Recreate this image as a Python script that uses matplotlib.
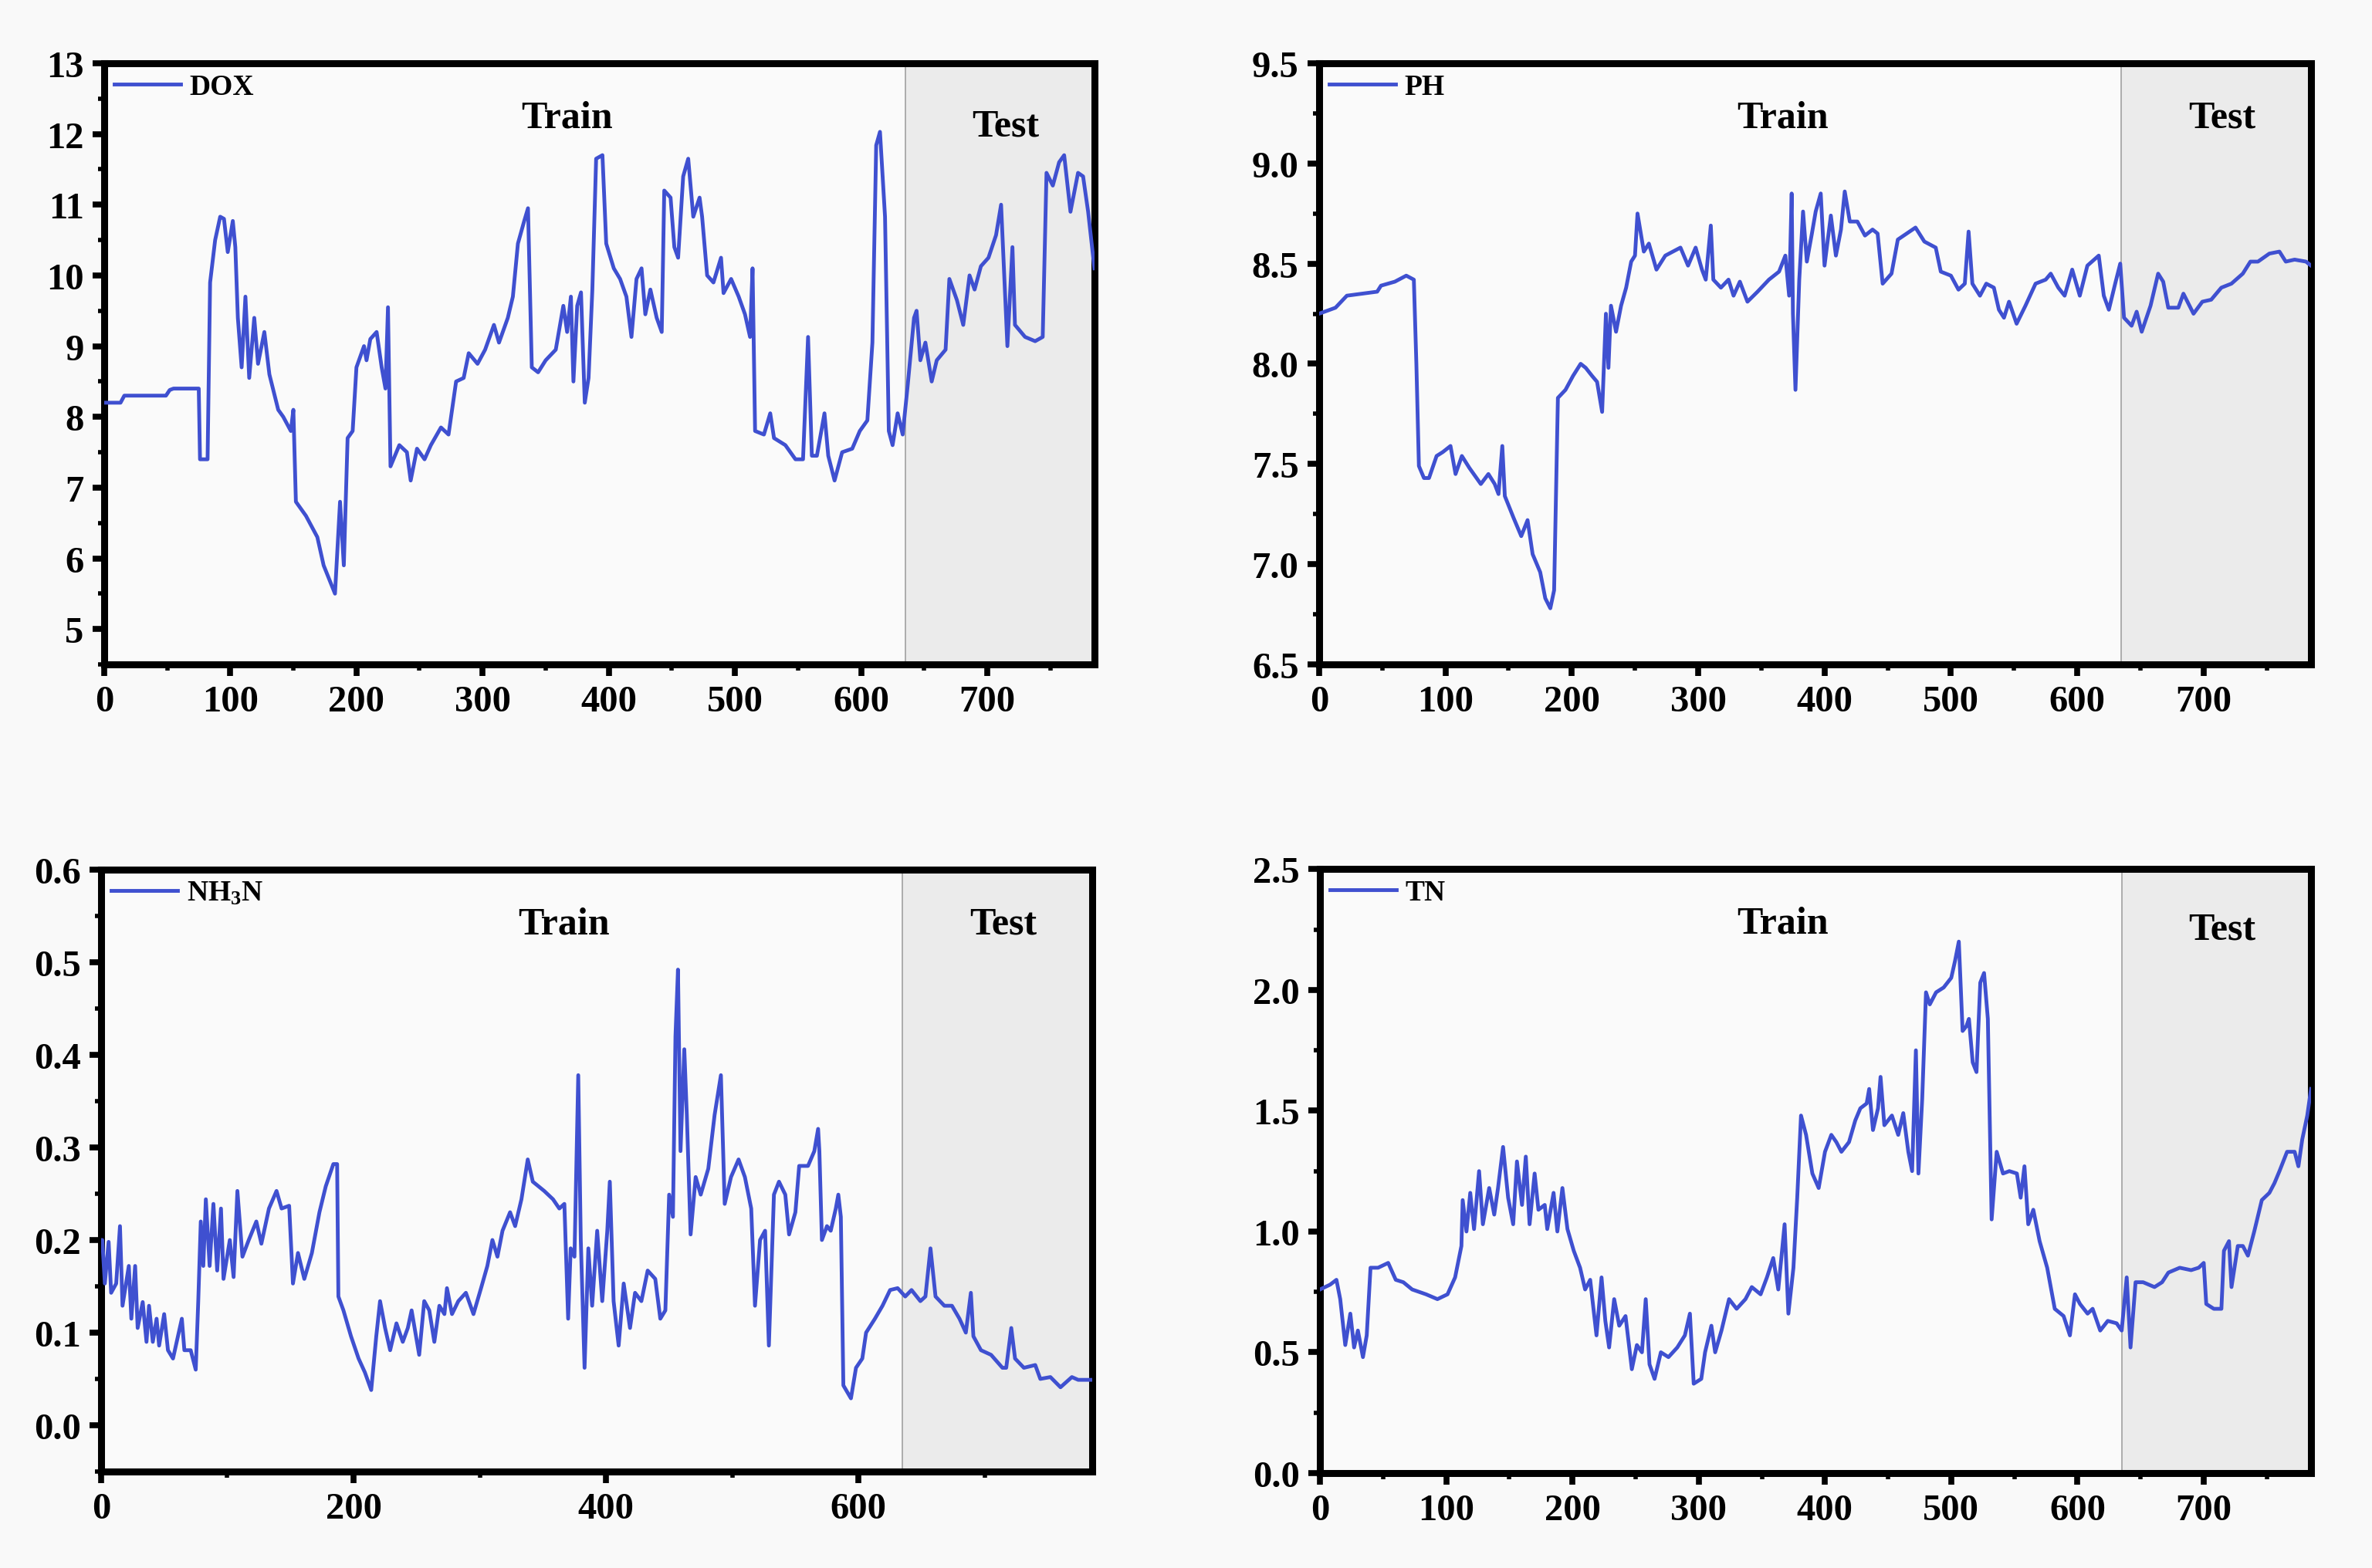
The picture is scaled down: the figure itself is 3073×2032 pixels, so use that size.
import matplotlib
matplotlib.use("Agg")
import matplotlib.pyplot as plt
from matplotlib.ticker import MultipleLocator, FormatStrFormatter

plt.rcParams["font.family"] = ["Liberation Serif", "DejaVu Serif"]
plt.rcParams["font.weight"] = "bold"
plt.rcParams["mathtext.fontset"] = "custom"
plt.rcParams["mathtext.rm"] = "Liberation Serif:bold"
plt.rcParams["mathtext.bf"] = "Liberation Serif:bold"
plt.rcParams["mathtext.default"] = "bf"

# (sample index, value)
DOX = [(0, 8.2), (13, 8.2), (16, 8.3), (49, 8.3), (52, 8.38), (55, 8.4), (75, 8.4), (76, 7.4),
       (82, 7.4), (84, 9.9), (88, 10.5), (92, 10.83), (95, 10.8), (98, 10.33), (102, 10.77),
       (104, 10.4), (106, 9.4), (109, 8.7), (112, 9.7), (115, 8.55), (119, 9.4), (122, 8.75),
       (127, 9.2), (131, 8.6), (138, 8.1), (142, 8.0), (148, 7.8), (150, 8.1), (152, 6.8),
       (160, 6.6), (169, 6.3), (174, 5.9), (183, 5.5), (187, 6.8), (190, 5.9), (193, 7.7),
       (197, 7.8), (200, 8.7), (206, 9.0), (208, 8.8), (211, 9.1), (216, 9.2), (220, 8.7),
       (223, 8.4), (225, 9.55), (227, 7.3), (234, 7.6), (240, 7.5), (243, 7.1), (248, 7.55),
       (254, 7.4), (259, 7.6), (267, 7.85), (273, 7.75), (279, 8.5), (285, 8.55), (289, 8.9),
       (296, 8.75), (302, 8.95), (309, 9.3), (313, 9.05), (320, 9.4), (324, 9.7), (328, 10.45),
       (333, 10.77), (336, 10.95), (339, 8.7), (344, 8.63), (350, 8.8), (358, 8.95), (364, 9.57),
       (367, 9.2), (370, 9.7), (372, 8.5), (375, 9.57), (378, 9.76), (381, 8.2), (384, 8.55),
       (387, 9.8), (390, 11.65), (395, 11.7), (398, 10.45), (404, 10.1), (409, 9.95), (414, 9.7),
       (418, 9.13), (422, 9.95), (426, 10.1), (429, 9.45), (433, 9.8), (438, 9.4), (442, 9.2),
       (444, 11.2), (449, 11.1), (452, 10.4), (455, 10.25), (459, 11.4), (463, 11.65),
       (467, 10.83), (472, 11.1), (474, 10.83), (478, 10.0), (483, 9.9), (489, 10.25),
       (491, 9.75), (497, 9.95), (503, 9.7), (508, 9.45), (512, 9.13), (514, 10.1), (516, 7.8),
       (523, 7.75), (528, 8.05), (531, 7.7), (540, 7.6), (548, 7.4), (554, 7.4), (558, 9.13),
       (561, 7.45), (565, 7.45), (571, 8.05), (574, 7.45), (579, 7.1), (585, 7.5), (593, 7.55),
       (599, 7.8), (605, 7.95), (609, 9.05), (612, 11.84), (615, 12.03), (619, 10.83),
       (622, 7.8), (625, 7.6), (629, 8.05), (633, 7.75), (637, 8.45), (642, 9.4), (644, 9.5),
       (647, 8.8), (651, 9.05), (656, 8.5), (660, 8.8), (667, 8.95), (670, 9.95), (676, 9.65),
       (681, 9.3), (686, 10.0), (690, 9.8), (695, 10.13), (701, 10.25), (707, 10.57),
       (711, 11.0), (716, 9.0), (720, 10.4), (722, 9.3), (730, 9.13), (738, 9.07), (744, 9.13),
       (747, 11.45), (752, 11.27), (757, 11.6), (761, 11.7), (766, 10.9), (772, 11.45),
       (776, 11.4), (780, 10.9), (785, 10.1)]

PH = [(0, 8.25), (13, 8.28), (22, 8.34), (34, 8.35), (46, 8.36), (49, 8.39), (60, 8.41),
      (69, 8.44), (75, 8.42), (77, 8.0), (79, 7.49), (83, 7.43), (87, 7.43), (93, 7.54),
      (98, 7.56), (104, 7.59), (108, 7.45), (113, 7.54), (119, 7.48), (128, 7.4), (134, 7.45),
      (139, 7.4), (142, 7.35), (145, 7.59), (147, 7.34), (154, 7.23), (160, 7.14), (165, 7.22),
      (169, 7.05), (175, 6.96), (179, 6.83), (183, 6.78), (186, 6.87), (189, 7.83), (195, 7.87),
      (201, 7.94), (207, 8.0), (211, 7.98), (216, 7.94), (220, 7.91), (224, 7.76), (227, 8.25),
      (229, 7.98), (231, 8.29), (235, 8.16), (239, 8.29), (243, 8.38), (247, 8.51), (250, 8.54),
      (252, 8.75), (257, 8.56), (261, 8.6), (267, 8.47), (274, 8.54), (280, 8.56), (286, 8.58),
      (292, 8.49), (298, 8.58), (303, 8.47), (306, 8.42), (310, 8.69), (312, 8.42), (318, 8.38),
      (324, 8.42), (328, 8.34), (333, 8.41), (339, 8.31), (347, 8.36), (356, 8.42), (364, 8.46),
      (369, 8.54), (372, 8.34), (374, 8.85), (375, 8.25), (377, 7.87), (380, 8.42), (383, 8.76),
      (386, 8.51), (390, 8.65), (393, 8.76), (397, 8.85), (400, 8.49), (405, 8.74), (409, 8.54),
      (413, 8.67), (416, 8.86), (420, 8.71), (426, 8.71), (432, 8.64), (438, 8.67), (442, 8.65),
      (446, 8.4), (453, 8.45), (458, 8.62), (465, 8.65), (472, 8.68), (479, 8.61), (488, 8.58),
      (492, 8.46), (500, 8.44), (506, 8.37), (511, 8.4), (514, 8.66), (517, 8.4), (523, 8.34),
      (528, 8.4), (534, 8.38), (538, 8.27), (542, 8.23), (546, 8.31), (552, 8.2), (559, 8.29),
      (567, 8.4), (575, 8.42), (579, 8.45), (585, 8.38), (590, 8.34), (596, 8.47), (602, 8.34),
      (608, 8.49), (617, 8.54), (621, 8.34), (625, 8.27), (630, 8.4), (634, 8.5), (637, 8.23),
      (643, 8.19), (647, 8.26), (651, 8.16), (658, 8.29), (664, 8.45), (668, 8.41), (672, 8.28),
      (680, 8.28), (684, 8.35), (692, 8.25), (699, 8.31), (706, 8.32), (714, 8.38), (722, 8.4),
      (731, 8.45), (737, 8.51), (743, 8.51), (752, 8.55), (760, 8.56), (765, 8.51), (772, 8.52),
      (781, 8.51), (785, 8.49)]

NH3N = [(0, 0.2), (1, 0.2), (3, 0.153), (6, 0.198), (8, 0.143), (12, 0.153), (15, 0.215),
        (17, 0.129), (22, 0.172), (24, 0.115), (27, 0.172), (29, 0.105), (33, 0.133), (36, 0.09),
        (38, 0.129), (41, 0.09), (44, 0.115), (46, 0.086), (50, 0.12), (53, 0.081), (57, 0.072),
        (64, 0.115), (66, 0.081), (71, 0.081), (75, 0.06), (77, 0.134), (79, 0.22), (81, 0.172),
        (83, 0.244), (86, 0.172), (89, 0.239), (92, 0.167), (95, 0.234), (97, 0.158), (102, 0.2),
        (105, 0.16), (108, 0.253), (112, 0.182), (117, 0.2), (123, 0.22), (127, 0.196),
        (133, 0.234), (139, 0.253), (143, 0.234), (149, 0.237), (152, 0.153), (156, 0.186),
        (161, 0.158), (167, 0.186), (173, 0.23), (178, 0.258), (184, 0.282), (187, 0.282),
        (188, 0.139), (192, 0.124), (198, 0.096), (204, 0.072), (209, 0.057), (214, 0.038),
        (218, 0.096), (221, 0.134), (225, 0.105), (229, 0.081), (234, 0.11), (239, 0.09),
        (243, 0.105), (246, 0.124), (252, 0.076), (256, 0.134), (260, 0.124), (264, 0.09),
        (268, 0.129), (272, 0.12), (274, 0.148), (278, 0.12), (283, 0.134), (289, 0.143),
        (295, 0.12), (301, 0.148), (306, 0.172), (310, 0.2), (314, 0.182), (318, 0.21),
        (324, 0.23), (328, 0.215), (333, 0.244), (338, 0.287), (342, 0.263), (351, 0.253),
        (358, 0.244), (363, 0.234), (367, 0.239), (370, 0.115), (372, 0.191), (375, 0.182),
        (378, 0.378), (380, 0.2), (383, 0.062), (386, 0.191), (389, 0.129), (393, 0.21),
        (397, 0.134), (401, 0.21), (403, 0.263), (406, 0.134), (410, 0.086), (414, 0.153),
        (419, 0.105), (423, 0.143), (428, 0.134), (433, 0.167), (439, 0.158), (443, 0.115),
        (447, 0.124), (450, 0.249), (453, 0.225), (455, 0.42), (457, 0.492), (459, 0.296),
        (462, 0.406), (464, 0.335), (467, 0.206), (471, 0.268), (475, 0.249), (481, 0.277),
        (486, 0.335), (491, 0.378), (494, 0.239), (499, 0.268), (505, 0.287), (510, 0.268),
        (515, 0.234), (518, 0.129), (522, 0.2), (526, 0.21), (529, 0.086), (533, 0.249),
        (537, 0.263), (542, 0.249), (545, 0.206), (550, 0.23), (553, 0.28), (560, 0.28),
        (565, 0.296), (568, 0.32), (569, 0.296), (571, 0.2), (575, 0.215), (578, 0.21),
        (582, 0.234), (584, 0.249), (586, 0.225), (588, 0.043), (594, 0.029), (598, 0.062),
        (603, 0.072), (606, 0.1), (613, 0.115), (619, 0.129), (625, 0.146), (631, 0.148),
        (637, 0.139), (642, 0.146), (649, 0.134), (653, 0.139), (657, 0.191), (661, 0.139),
        (668, 0.129), (674, 0.129), (680, 0.115), (685, 0.1), (689, 0.143), (691, 0.096),
        (697, 0.081), (705, 0.076), (714, 0.062), (717, 0.062), (721, 0.105), (724, 0.072),
        (731, 0.062), (740, 0.065), (744, 0.05), (752, 0.052), (760, 0.041), (769, 0.052),
        (774, 0.049), (785, 0.049)]

TN = [(0, 0.76), (8, 0.78), (13, 0.8), (16, 0.72), (20, 0.53), (24, 0.66), (27, 0.52), (30, 0.59),
      (34, 0.48), (37, 0.57), (40, 0.85), (46, 0.85), (54, 0.87), (60, 0.8), (66, 0.79),
      (73, 0.76), (84, 0.74), (93, 0.72), (101, 0.74), (107, 0.81), (112, 0.94), (113, 1.13),
      (116, 1.0), (119, 1.16), (122, 1.01), (126, 1.25), (129, 1.03), (134, 1.18), (138, 1.07),
      (141, 1.18), (145, 1.35), (149, 1.14), (153, 1.03), (156, 1.29), (160, 1.11), (163, 1.31),
      (166, 1.03), (170, 1.24), (173, 1.09), (178, 1.11), (180, 1.01), (185, 1.16), (188, 1.0),
      (192, 1.18), (196, 1.01), (201, 0.92), (206, 0.85), (210, 0.76), (214, 0.8), (219, 0.57),
      (223, 0.81), (226, 0.63), (229, 0.52), (233, 0.72), (237, 0.61), (242, 0.65), (247, 0.43),
      (251, 0.53), (255, 0.5), (258, 0.72), (261, 0.45), (265, 0.39), (270, 0.5), (276, 0.48),
      (283, 0.52), (289, 0.57), (293, 0.66), (296, 0.37), (302, 0.39), (305, 0.5), (310, 0.61),
      (313, 0.5), (318, 0.59), (324, 0.72), (330, 0.68), (337, 0.72), (342, 0.77), (349, 0.74),
      (354, 0.81), (359, 0.89), (363, 0.76), (368, 1.03), (371, 0.66), (375, 0.85), (378, 1.14),
      (381, 1.48), (385, 1.4), (390, 1.24), (395, 1.18), (400, 1.33), (405, 1.4), (409, 1.37),
      (413, 1.33), (419, 1.37), (424, 1.46), (428, 1.51), (433, 1.53), (435, 1.59), (438, 1.42),
      (442, 1.51), (444, 1.64), (447, 1.44), (453, 1.48), (458, 1.4), (462, 1.49), (466, 1.33),
      (469, 1.25), (472, 1.75), (474, 1.24), (477, 1.55), (480, 1.99), (483, 1.94), (488, 1.99),
      (494, 2.01), (500, 2.05), (503, 2.12), (506, 2.2), (509, 1.83), (512, 1.85), (514, 1.88),
      (517, 1.7), (520, 1.66), (523, 2.03), (526, 2.07), (529, 1.88), (532, 1.05), (536, 1.33),
      (541, 1.24), (546, 1.25), (552, 1.24), (555, 1.14), (558, 1.27), (561, 1.03), (565, 1.09),
      (570, 0.96), (576, 0.85), (582, 0.68), (589, 0.65), (594, 0.57), (598, 0.74), (602, 0.7),
      (608, 0.66), (612, 0.68), (618, 0.59), (624, 0.63), (631, 0.62), (635, 0.59), (639, 0.81),
      (642, 0.52), (646, 0.79), (652, 0.79), (661, 0.77), (667, 0.79), (672, 0.83), (681, 0.85),
      (690, 0.84), (696, 0.85), (700, 0.87), (702, 0.7), (708, 0.68), (714, 0.68), (716, 0.92),
      (720, 0.96), (722, 0.77), (727, 0.94), (731, 0.94), (735, 0.9), (740, 1.0), (746, 1.13),
      (752, 1.16), (756, 1.2), (760, 1.25), (766, 1.33), (772, 1.33), (775, 1.27), (778, 1.38),
      (782, 1.48), (785, 1.59)]

TEST_START = 635
X_END = 785

panels = [
    dict(data=DOX, label="DOX", rect=[0.0439, 0.5760, 0.4175, 0.3832], ylim=(4.5, 13),
         ymaj=1, ymin=0.5, xmaj=100, xmin=50, fmt="%d", test_y=0.895),
    dict(data=PH, label="PH", rect=[0.5561, 0.5760, 0.4182, 0.3832], ylim=(6.5, 9.5),
         ymaj=0.5, ymin=0.25, xmaj=100, xmin=50, fmt="%.1f", test_y=0.91),
    dict(data=NH3N, label="NH$_{3}$N", rect=[0.0426, 0.0615, 0.4178, 0.3837], ylim=(-0.05, 0.6),
         ymaj=0.1, ymin=0.05, xmaj=200, xmin=100, fmt="%.1f", test_y=0.91),
    dict(data=TN, label="TN", rect=[0.5565, 0.0605, 0.4178, 0.3850], ylim=(0, 2.5),
         ymaj=0.5, ymin=0.25, xmaj=100, xmin=50, fmt="%.1f", test_y=0.90),
]

fig = plt.figure(figsize=(30.73, 20.33), dpi=100, facecolor="#f9f9f9")

for p in panels:
    ax = fig.add_axes(p["rect"], facecolor="#fafafa")
    xs = [pt[0] for pt in p["data"]]
    ys = [pt[1] for pt in p["data"]]
    ax.axvspan(TEST_START, X_END, color="#ebebeb", zorder=0, lw=0)
    ax.axvline(TEST_START, color="#a0a0a0", lw=1.2, zorder=1)
    ax.plot(xs, ys, color="#3f50d0", lw=3.5, label=p["label"], zorder=3)
    ax.set_xlim(0, X_END)
    ax.set_ylim(*p["ylim"])
    ax.xaxis.set_major_locator(MultipleLocator(p["xmaj"]))
    ax.xaxis.set_minor_locator(MultipleLocator(p["xmin"]))
    ax.yaxis.set_major_locator(MultipleLocator(p["ymaj"]))
    ax.yaxis.set_minor_locator(MultipleLocator(p["ymin"]))
    ax.yaxis.set_major_formatter(FormatStrFormatter(p["fmt"]))
    ax.tick_params(which="major", direction="out", length=11, width=5.5, labelsize=35, pad=8)
    ax.tick_params(which="minor", direction="out", length=6, width=4)
    for s in ax.spines.values():
        s.set_linewidth(6.5)
    ax.text(0.467, 0.91, "Train", transform=ax.transAxes, fontsize=36,
            fontweight="bold", ha="center", va="center")
    ax.text(0.91, p["test_y"], "Test", transform=ax.transAxes, fontsize=36,
            fontweight="bold", ha="center", va="center")
    ax.legend(loc="upper left", frameon=False, fontsize=27, handlelength=2.3,
              handletextpad=0.3, borderaxespad=0.1, borderpad=0.25)

fig.savefig("out.png", dpi=100, facecolor=fig.get_facecolor())
